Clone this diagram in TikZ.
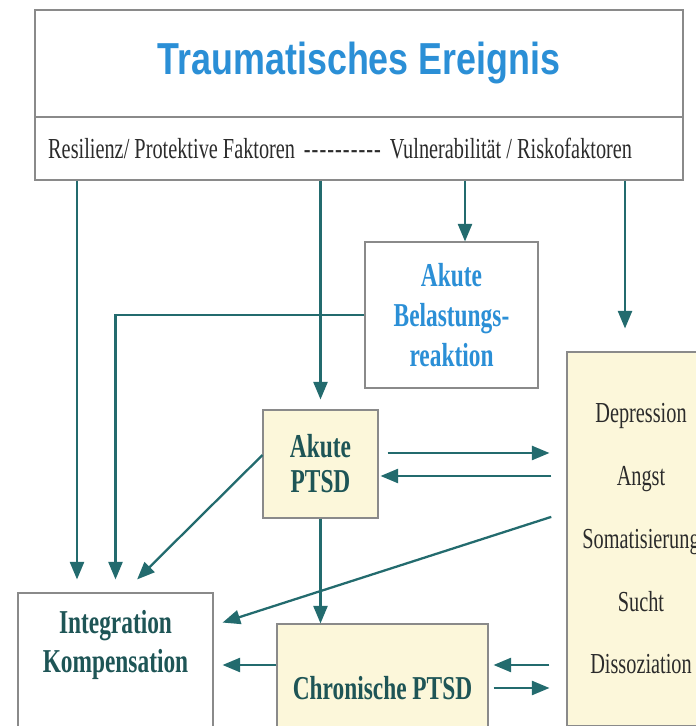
\documentclass[tikz,border=0pt]{standalone}
\usepackage{xcolor}
\usepackage{fontspec}
\setmainfont{Liberation Serif}
\newfontfamily\narrowserif[FakeStretch=0.70]{Liberation Serif}
\newfontfamily\narrowsans[FakeStretch=0.80]{Liberation Sans}
\usetikzlibrary{arrows.meta}

\definecolor{arrowteal}{HTML}{236B6E}
\definecolor{textteal}{HTML}{1E5556}
\definecolor{titleblue}{HTML}{2B8FD6}
\definecolor{boxgray}{HTML}{8A8A8A}
\definecolor{boxyellow}{HTML}{FCF7DA}
\definecolor{symgray}{HTML}{2B2B2B}

\newcommand{\dashrow}{-\kern.6pt-\kern.6pt-\kern.6pt-\kern.6pt-\kern.6pt-\kern.6pt-\kern.6pt-\kern.6pt-\kern.6pt-}

\begin{document}
\begin{tikzpicture}[
    box/.style={draw=boxgray, line width=0.6pt, inner sep=0pt},
    ybox/.style={box, fill=boxyellow},
    arr/.style={draw=arrowteal, line width=1.3pt, -{Triangle[length=10pt, width=8pt]}},
    boldtext/.style={font=\narrowserif\bfseries\fontsize{19}{22}\selectfont, text=textteal, align=center},
    plaintext/.style={font=\narrowserif\fontsize{16.5}{20}\selectfont, text=symgray}]
    \clip (0,0) rectangle (13.92,14.52);
    % Traumatisches Ereignis
    \node[box, minimum width=12.96cm, minimum height=2.14cm, text=titleblue,
          font=\narrowsans\bfseries\fontsize{25.5}{30}\selectfont] (ereignis) at (7.18,13.25) {Traumatisches Ereignis};
    \node[box, minimum width=12.96cm, minimum height=1.26cm] (faktoren) at (7.18,11.55) {};
    \node[plaintext, anchor=west] (faktorentext) at (0.84,11.55)
        {Resilienz/ Protektive Faktoren\hspace{5pt}\dashrow\hspace{5pt}Vulnerabilität / Riskofaktoren};
    % Akute Belastungsreaktion
    \node[box, minimum width=3.46cm, minimum height=2.92cm, boldtext, text=titleblue,
          font=\narrowserif\bfseries\fontsize{19}{22.7}\selectfont] (belastung) at (9.03,8.22) {Akute\\Belastungs-\\reaktion};
    % Akute PTSD
    \node[ybox, minimum width=2.30cm, minimum height=2.16cm, boldtext,
          font=\narrowserif\bfseries\fontsize{19}{20}\selectfont] (akute) at (6.41,5.24) {Akute\\PTSD};
    % Komorbiditaet
    \node[ybox, minimum width=2.96cm, minimum height=7.48cm, plaintext, align=center,
          font=\narrowserif\fontsize{16.5}{35.7}\selectfont] (symptome) at (12.82,3.74)
        {Depression\\Angst\\Somatisierung\\Sucht\\Dissoziation};
    % Integration
    \node[box, minimum width=3.90cm, minimum height=2.96cm] (integration) at (2.31,1.18) {};
    \node[boldtext] (integrationtext) at (2.31,1.62) {Integration\\Kompensation};
    % Chronische PTSD
    \node[ybox, minimum width=4.22cm, minimum height=2.56cm, boldtext] (chronisch) at (7.65,0.76) {Chronische PTSD};

    % Pfeile vom Ereignis
    \draw[arr, shorten >=0.26cm] ([xshift=-0.77cm]integration.north |- faktoren.south) -- ([xshift=-0.77cm]integration.north);
    \draw[arr, shorten >=0.20cm] (akute.north |- faktoren.south) -- (akute.north);
    \draw[arr] ([xshift=0.27cm]belastung.north |- faktoren.south) -- ([xshift=0.27cm]belastung.north);
    \draw[arr, shorten >=0.46cm] ([xshift=-0.32cm]symptome.north |- faktoren.south) -- ([xshift=-0.32cm]symptome.north);
    % Belastungsreaktion zu Integration
    \draw[arr, shorten >=0.26cm] (belastung.west) -| (integration.north);
    % Akute PTSD
    \draw[arr, transform canvas={yshift=0.22cm}, shorten <=0.18cm, shorten >=0.34cm] (akute.east) -- (akute.east -| symptome.west);
    \draw[arr, transform canvas={yshift=-0.24cm}, shorten <=0.30cm, shorten >=0.04cm] (akute.east -| symptome.west) -- (akute.east);
    \draw[arr, shorten >=0.37cm] ([yshift=0.18cm]akute.west) -- ([xshift=0.17cm]integration.north);
    \draw[arr] (akute.south) -- (akute.south |- chronisch.north);
    % Komorbiditaet zu Integration
    \draw[arr, shorten <=0.32cm, shorten >=0.19cm] ([yshift=0.54cm]symptome.west) -- ([yshift=-0.66cm]integration.north east);
    % Chronische PTSD
    \draw[arr, transform canvas={yshift=0.46cm}, shorten >=0.18cm] (chronisch.west) -- (chronisch.west -| integration.east);
    \draw[arr, transform canvas={yshift=0.46cm}, shorten <=0.34cm, shorten >=0.10cm] (chronisch.east -| symptome.west) -- (chronisch.east);
    \draw[arr, shorten <=0.10cm, shorten >=0.34cm] (chronisch.east) -- (chronisch.east -| symptome.west);
\end{tikzpicture}
\end{document}
